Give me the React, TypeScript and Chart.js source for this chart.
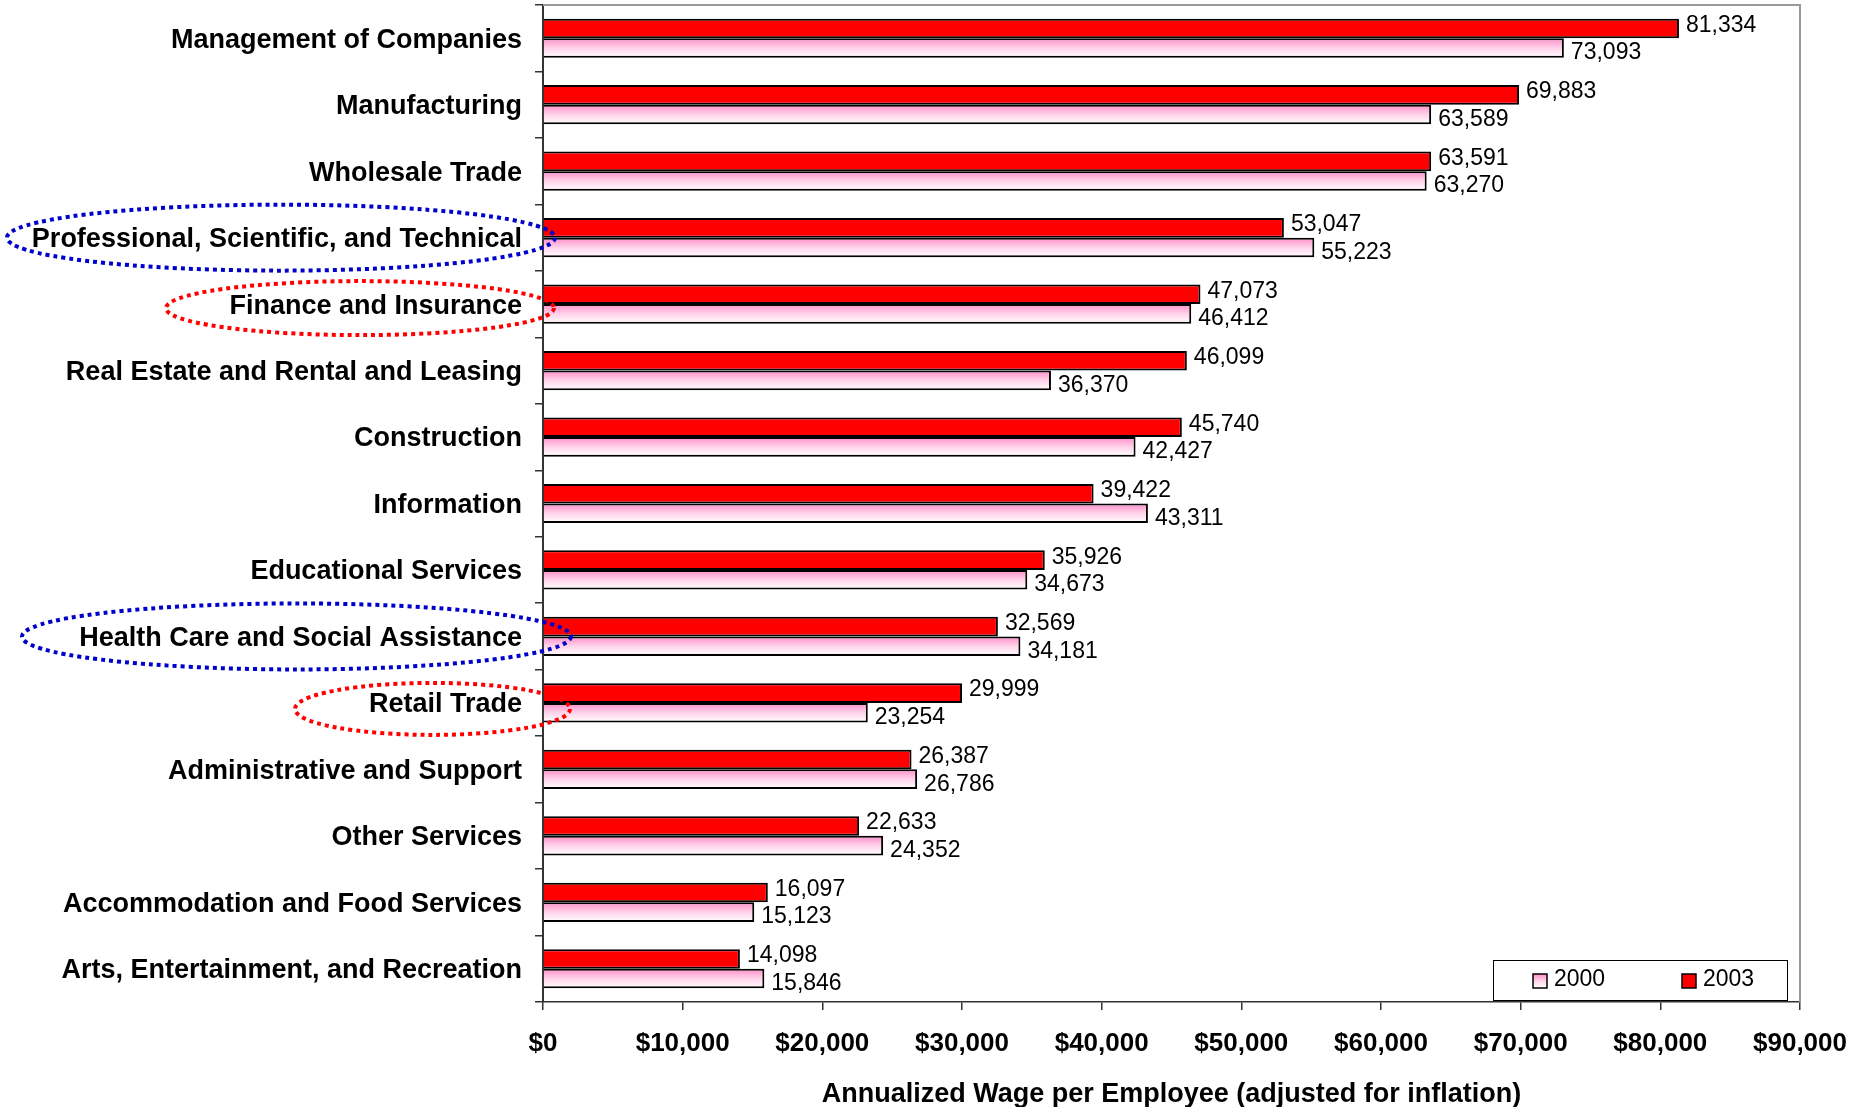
import React, { useEffect, useRef } from 'react';
import { Chart, registerables } from 'chart.js';

Chart.register(...registerables);

// ---------- data ----------
const categories = [
  'Management of Companies',
  'Manufacturing',
  'Wholesale Trade',
  'Professional, Scientific, and Technical',
  'Finance and Insurance',
  'Real Estate and Rental and Leasing',
  'Construction',
  'Information',
  'Educational Services',
  'Health Care and Social Assistance',
  'Retail Trade',
  'Administrative and Support',
  'Other Services',
  'Accommodation and Food Services',
  'Arts, Entertainment, and Recreation',
];

const wages2003 = [81334, 69883, 63591, 53047, 47073, 46099, 45740, 39422, 35926, 32569, 29999, 26387, 22633, 16097, 14098];
const wages2000 = [73093, 63589, 63270, 55223, 46412, 36370, 42427, 43311, 34673, 34181, 23254, 26786, 24352, 15123, 15846];

const seriesLabels = ['2000', '2003'];
const xMin = 0;
const xMax = 90000;
const xStep = 10000;
const axisTitle = 'Annualized Wage per Employee (adjusted for inflation)';

const highlightedCategories = [
  'Professional, Scientific, and Technical',
  'Finance and Insurance',
  'Health Care and Social Assistance',
  'Retail Trade',
];

// ---------- styles ----------
const FONT = '"Liberation Sans", Arial, Helvetica, sans-serif';
const CAT_PCT = 0.59;
const RED = '#FF0000';
const ellipseStyles: Record<string, { color: string; left: number; rightOff: number; dy: number; h: number }> = {
  'Professional, Scientific, and Technical': { color: '#0000CC', left: 7, rightOff: 12, dy: 0, h: 66 },
  'Finance and Insurance': { color: '#FF0000', left: 166, rightOff: 11, dy: 4, h: 54 },
  'Health Care and Social Assistance': { color: '#0000CC', left: 22, rightOff: 28, dy: 0, h: 66 },
  'Retail Trade': { color: '#FF0000', left: 295, rightOff: 27, dy: 6, h: 52 },
};

const makePinkGradient = (ctx: CanvasRenderingContext2D, top: number, bottom: number) => {
  const g = ctx.createLinearGradient(0, top, 0, bottom);
  g.addColorStop(0, '#FF8CC8');
  g.addColorStop(0.5, '#FFD3EA');
  g.addColorStop(1, '#FFFFFF');
  return g;
};

const pinkFill = (c: any) => {
  const chart = c.chart;
  const ys = chart.scales && chart.scales.y;
  const ca = chart.chartArea;
  if (c.type !== 'data' || !ys || !ca) return '#FFC6E2';
  const center = ys.getPixelForValue(c.dataIndex);
  const band = ((ca.bottom - ca.top) / categories.length) * CAT_PCT / 2;
  return makePinkGradient(chart.ctx, center, center + band);
};

const framePlugin = {
  id: 'frame',
  beforeDatasetsDraw(chart: any) {
    const { ctx, chartArea: ca } = chart;
    ctx.save();
    ctx.strokeStyle = '#9A9A9A';
    ctx.lineWidth = 2;
    ctx.beginPath();
    ctx.moveTo(ca.left, ca.top);
    ctx.lineTo(ca.right, ca.top);
    ctx.lineTo(ca.right, ca.bottom);
    ctx.stroke();
    ctx.restore();
  },
};

const valueLabelPlugin = {
  id: 'valueLabels',
  afterDatasetsDraw(chart: any) {
    const { ctx } = chart;
    const ys = chart.scales.y;
    ctx.save();
    ctx.font = `23px ${FONT}`;
    ctx.fillStyle = '#000';
    ctx.textAlign = 'left';
    ctx.textBaseline = 'middle';
    chart.data.datasets.forEach((ds: any, di: number) => {
      const meta = chart.getDatasetMeta(di);
      meta.data.forEach((el: any, i: number) => {
        const v = ds.data[i] as number;
        const center = ys.getPixelForValue(i);
        const dy = el.y < center ? -3 : 5;
        ctx.fillText(v.toLocaleString('en-US'), el.x + 7, el.y + dy);
      });
    });
    ctx.restore();
  },
};

const legendPlugin = {
  id: 'boxLegend',
  afterDraw(chart: any) {
    const { ctx, chartArea: ca } = chart;
    const w = 295;
    const h = 41;
    const right = ca.right - 12;
    const bottom = ca.bottom - 1;
    const left = right - w;
    const top = bottom - h;
    ctx.save();
    ctx.fillStyle = '#FFFFFF';
    ctx.fillRect(left, top, w, h);
    ctx.strokeStyle = '#000';
    ctx.lineWidth = 1;
    ctx.strokeRect(left + 0.5, top + 0.5, w - 1, h - 1);
    const items = [
      { label: seriesLabels[0], fill: makePinkGradient(ctx, top + 14, top + 28), x: left + 40 },
      { label: seriesLabels[1], fill: RED, x: left + 189 },
    ];
    const cy = top + 21;
    items.forEach((it) => {
      ctx.fillStyle = it.fill as any;
      ctx.fillRect(it.x, cy - 7, 14, 14);
      ctx.lineWidth = 1.5;
      ctx.strokeStyle = '#000';
      ctx.strokeRect(it.x, cy - 7, 14, 14);
      ctx.fillStyle = '#000';
      ctx.font = `23px ${FONT}`;
      ctx.textAlign = 'left';
      ctx.textBaseline = 'middle';
      ctx.fillText(it.label, it.x + 21, cy - 1);
    });
    ctx.restore();
  },
};

const ellipsePlugin = {
  id: 'ellipses',
  afterDraw(chart: any) {
    const { ctx, chartArea: ca } = chart;
    const ys = chart.scales.y;
    ctx.save();
    highlightedCategories.forEach((name) => {
      const st = ellipseStyles[name];
      const idx = categories.indexOf(name);
      if (!st || idx < 0) return;
      const cy = ys.getPixelForValue(idx) + st.dy;
      const left = st.left;
      const right = ca.left + st.rightOff;
      ctx.beginPath();
      ctx.ellipse((left + right) / 2, cy, (right - left) / 2, st.h / 2, 0, 0, Math.PI * 2);
      ctx.setLineDash([4, 4]);
      ctx.lineWidth = 4;
      ctx.strokeStyle = st.color;
      ctx.stroke();
    });
    ctx.restore();
  },
};

export default function App() {
  const canvasRef = useRef<HTMLCanvasElement | null>(null);

  useEffect(() => {
    if (!canvasRef.current) return;
    const chart = new Chart(canvasRef.current, {
      type: 'bar',
      data: {
        labels: categories,
        datasets: [
          {
            label: seriesLabels[1],
            data: wages2003,
            backgroundColor: RED,
            borderColor: '#000',
            borderWidth: 2,
          },
          {
            label: seriesLabels[0],
            data: wages2000,
            backgroundColor: pinkFill as any,
            borderColor: '#000',
            borderWidth: 2,
          },
        ],
      },
      options: {
        indexAxis: 'y',
        responsive: false,
        animation: false,
        events: [],
        datasets: { bar: { categoryPercentage: CAT_PCT, barPercentage: 1 } },
        layout: { padding: { top: 5, right: 52, left: 0, bottom: 0 } },
        plugins: {
          legend: { display: false },
          tooltip: { enabled: false },
        },
        scales: {
          x: {
            type: 'linear',
            min: xMin,
            max: xMax,
            ticks: {
              stepSize: xStep,
              color: '#000',
              padding: 18,
              font: { family: FONT, size: 26, weight: 'bold' },
              callback: (v: any) => '$' + Number(v).toLocaleString('en-US'),
            },
            grid: { drawOnChartArea: false, drawTicks: true, tickLength: 8, color: '#333', lineWidth: 1.5 },
            border: { display: true, color: '#333', width: 1.5 },
            title: {
              display: true,
              text: axisTitle,
              color: '#000',
              font: { family: FONT, size: 27, weight: 'bold' },
              padding: { top: 0, bottom: -4 },
            },
            afterFit: (s: any) => {
              s.height = 105;
              s.paddingLeft = 0;
              s.paddingRight = 0;
            },
          },
          y: {
            type: 'category',
            offset: true,
            ticks: {
              color: '#000',
              padding: 13,
              labelOffset: 2,
              font: { family: FONT, size: 27, weight: 'bold' },
              autoSkip: false,
            },
            grid: { drawOnChartArea: false, drawTicks: true, tickLength: 8, color: '#333', lineWidth: 1.5, offset: true },
            border: { display: true, color: '#333', width: 2 },
            afterFit: (s: any) => {
              s.width = 543;
              s.paddingTop = 0;
              s.paddingBottom = 0;
            },
          },
        },
      },
      plugins: [framePlugin, valueLabelPlugin, legendPlugin, ellipsePlugin],
    } as any);
    return () => chart.destroy();
  }, []);

  return (
    <div style={{ position: 'fixed', left: 0, top: 0, width: 1852, height: 1107, background: '#fff' }}>
      <canvas ref={canvasRef} width={1852} height={1107} style={{ display: 'block' }} />
    </div>
  );
}
